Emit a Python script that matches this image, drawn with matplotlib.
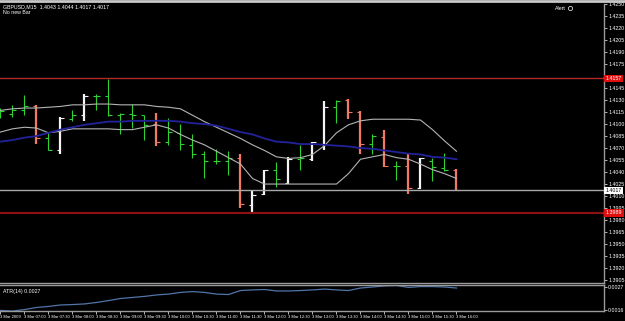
import numpy as np
import matplotlib.pyplot as plt

plt.rcParams['font.family'] = ['Liberation Sans', 'DejaVu Sans']

# GBPUSD M15, 3 Mar 2009, 06:30 .. 16:00
opens = [1.4111, 1.4112, 1.4117, 1.4122, 1.4082, 1.4068, 1.4106, 1.4111, 1.4135, 1.4135,
         1.4111, 1.4112, 1.4111, 1.4100, 1.4078, 1.4089, 1.4074, 1.4062, 1.4054, 1.4054,
         1.4058, 1.3999, 1.4012, 1.4042, 1.4026, 1.4056, 1.4056, 1.4075, 1.4121, 1.4130,
         1.4115, 1.4075, 1.4084, 1.4048, 1.4048, 1.4020, 1.4054, 1.4045, 1.4043]
highs = [1.4120, 1.4124, 1.4136, 1.4124, 1.4089, 1.4109, 1.4117, 1.4138, 1.4137, 1.4156,
         1.4114, 1.4125, 1.4111, 1.4114, 1.4108, 1.4100, 1.4087, 1.4066, 1.4069, 1.4066,
         1.4063, 1.4017, 1.4043, 1.4053, 1.4059, 1.4074, 1.4078, 1.4129, 1.4130, 1.4131,
         1.4116, 1.4087, 1.4093, 1.4054, 1.4062, 1.4058, 1.4058, 1.4064, 1.4044]
lows = [1.4108, 1.4109, 1.4111, 1.4075, 1.4067, 1.4063, 1.4104, 1.4104, 1.4117, 1.4110,
        1.4087, 1.4095, 1.4080, 1.4073, 1.4074, 1.4068, 1.4058, 1.4033, 1.4050, 1.4036,
        1.3995, 1.3990, 1.4011, 1.4021, 1.4025, 1.4043, 1.4054, 1.4067, 1.4101, 1.4106,
        1.4062, 1.4062, 1.4046, 1.4030, 1.4012, 1.4019, 1.4029, 1.4041, 1.4017]
closes = [1.4116, 1.4117, 1.4122, 1.4082, 1.4068, 1.4108, 1.4111, 1.4135, 1.4135, 1.4111,
          1.4112, 1.4111, 1.4099, 1.4078, 1.4090, 1.4075, 1.4062, 1.4054, 1.4054, 1.4058,
          1.4000, 1.4011, 1.4042, 1.4031, 1.4056, 1.4057, 1.4077, 1.4121, 1.4129, 1.4115,
          1.4075, 1.4085, 1.4048, 1.4048, 1.4020, 1.4057, 1.4046, 1.4043, 1.4017]
# indicator signal: +1 strong up bar, -1 strong down bar, 0 normal
signal = [0, 0, 0, -1, 0, 1, 0, 1, 0, 0,
          0, 0, 0, -1, 0, 0, 0, 0, 0, 0,
          -1, 1, 1, 0, 1, 0, 1, 1, 0, -1,
          -1, 0, -1, 0, -1, 1, 0, 0, -1]

ma_blue = [1.4078, 1.4080, 1.4083, 1.4085, 1.4089, 1.4093, 1.4096, 1.4099, 1.4101, 1.4103,
           1.4103, 1.4104, 1.4104, 1.4104, 1.4104, 1.4103, 1.4101, 1.4100, 1.4098, 1.4094,
           1.4090, 1.4087, 1.4082, 1.4078, 1.4077, 1.4075, 1.4075, 1.4074, 1.4073, 1.4072,
           1.4070, 1.4069, 1.4067, 1.4065, 1.4063, 1.4062, 1.4059, 1.4058, 1.4056]
band_up = [1.4117, 1.4119, 1.4120, 1.4120, 1.4121, 1.4122, 1.4124, 1.4124, 1.4125, 1.4125,
           1.4124, 1.4124, 1.4124, 1.4122, 1.4121, 1.4119, 1.4111, 1.4103, 1.4096, 1.4089,
           1.4082, 1.4074, 1.4067, 1.4059, 1.4057, 1.4058, 1.4062, 1.4073, 1.4089, 1.4099,
           1.4104, 1.4106, 1.4106, 1.4106, 1.4106, 1.4105, 1.4093, 1.4079, 1.4066]
band_dn = [1.4090, 1.4094, 1.4096, 1.4095, 1.4089, 1.4091, 1.4094, 1.4094, 1.4094, 1.4094,
           1.4093, 1.4093, 1.4096, 1.4099, 1.4095, 1.4087, 1.4080, 1.4074, 1.4066, 1.4058,
           1.4050, 1.4032, 1.4025, 1.4025, 1.4025, 1.4025, 1.4025, 1.4025, 1.4025, 1.4038,
           1.4056, 1.4059, 1.4062, 1.4058, 1.4056, 1.4050, 1.4043, 1.4038, 1.4032]
atr = [0.00158, 0.00155, 0.00162, 0.00172, 0.00177, 0.00184, 0.00186, 0.00189, 0.00196, 0.00205,
       0.00215, 0.00220, 0.00225, 0.00232, 0.00236, 0.00244, 0.00248, 0.00244, 0.00236, 0.00234,
       0.00253, 0.00256, 0.00258, 0.00251, 0.00251, 0.00253, 0.00256, 0.00260, 0.00256, 0.00253,
       0.00265, 0.00270, 0.00275, 0.00277, 0.00268, 0.00272, 0.00272, 0.00270, 0.00265]

level_hi = 1.4157
level_lo = 1.3989
time_labels = ['3 Mar 2009', '3 Mar 07:00', '3 Mar 07:30', '3 Mar 08:00', '3 Mar 08:30',
               '3 Mar 09:00', '3 Mar 09:30', '3 Mar 10:00', '3 Mar 10:30', '3 Mar 11:00',
               '3 Mar 11:30', '3 Mar 12:00', '3 Mar 12:30', '3 Mar 13:00', '3 Mar 13:30',
               '3 Mar 14:00', '3 Mar 14:30', '3 Mar 15:00', '3 Mar 15:30', '3 Mar 16:00']

W, H = 625, 321
fig = plt.figure(figsize=(W / 100, H / 100), dpi=100, facecolor='black')

def box(top, bottom, right=604):
    return [0, 1 - bottom / H, right / W, (bottom - top) / H]

ax = fig.add_axes(box(4, 283))
ax2 = fig.add_axes(box(285, 311))
grey = '#9a9a9a'
for a in (ax, ax2):
    a.set_facecolor('black')
    a.set_xlim(-0.04, 604 / 12 - 0.04)
    for s in a.spines.values():
        s.set_color(grey)
        s.set_linewidth(1)
    a.spines['left'].set_visible(False)
    a.yaxis.tick_right()
    a.tick_params(axis='y', colors='white', labelsize=3.8, length=2, width=0.5, pad=1)
ax.spines['top'].set_visible(False)

x = np.arange(len(opens))
o = np.array(opens)
c = np.array(closes)
sig = np.array(signal)
colors = np.where(sig > 0, '#f4f4f4', np.where(sig < 0, '#f07a64', '#2ed42e'))
widths = np.where(sig != 0, 1.6, 0.8)

ax.vlines(x, lows, highs, colors=colors, linewidth=widths)
ax.hlines(o, x - 0.33, x, colors=colors, linewidth=0.8)
ax.hlines(c, x, x + 0.33, colors=colors, linewidth=0.8)

ax.plot(x, band_up, color='#b4b4b4', lw=0.8)
ax.plot(x, band_dn, color='#b4b4b4', lw=0.8)
ax.plot(x, ma_blue, color='#22229a', lw=1.3)

ax.axhline(level_hi, color='#b02a2a', lw=1)
ax.axhline(level_lo, color='#8a1212', lw=1.6)
ax.axhline(closes[-1], color='#a8a8a8', lw=1)

step = 0.0015
px = step / 12.15
ax.set_ylim(1.4010 - 88 * px, 1.4010 + 191 * px)
ticks = [t for t in np.arange(1.3905, 1.4251, step) if abs(t - level_hi) > 0.0004]
ax.set_yticks(ticks)
ax.set_yticklabels([f'{t:.4f}' for t in ticks])
ax.set_xticks([])

yt = ax.get_yaxis_transform()
for lvl in (level_hi, level_lo):
    ax.text(1.003, lvl, f'{lvl:.4f}', transform=yt, fontsize=3.8, color='white',
            va='center', ha='left', clip_on=False,
            bbox=dict(boxstyle='square,pad=0.25', fc='#e01010', ec='none'))
ax.text(1.003, closes[-1], f'{closes[-1]:.4f}', transform=yt, fontsize=3.8, color='black',
        va='center', ha='left', clip_on=False,
        bbox=dict(boxstyle='square,pad=0.25', fc='white', ec='none'))

# ATR sub window
ax2.plot(x, atr, color='#5075a8', lw=0.9)
apx = 0.0000478
ax2.set_ylim(0.0016 - 1 * apx, 0.0016 + 25 * apx)
ax2.set_yticks([0.0016, 0.0027])
ax2.set_yticklabels(['0.0016', '0.0027'])
ax2.set_xticks(x[::2][:len(time_labels)])
ax2.set_xticklabels(time_labels, ha='left')
ax2.tick_params(axis='x', colors='white', labelsize=3.0, length=2, width=0.5, pad=1)
for lab in ax2.get_xticklabels():
    lab.set_x(lab.get_position()[0])
ax2.text(0.005, 0.86, f'ATR(14) {atr[-1]:.4f}', transform=ax2.transAxes,
         fontsize=3.8, color='white', va='top')

fig.text(3 / W, 1 - 7 / H, 'GBPUSD,M15  %.4f %.4f %.4f %.4f' % (opens[-1], highs[-1], lows[-1], closes[-1]),
         fontsize=3.8, color='white', va='center')
fig.text(3 / W, 1 - 13 / H, 'No new Bar', fontsize=3.8, color='white', va='center')
fig.text(566 / W, 1 - 8 / H, 'Alert', fontsize=3.8, color='white', va='center', ha='right')
fig.lines.append(plt.Line2D([570 / W], [1 - 8 / H], marker='o', ms=3, mfc='none',
                            mec='white', mew=0.5, transform=fig.transFigure))
fig.lines.append(plt.Line2D([0, 1], [1 - 1 / H, 1 - 1 / H], color='#c8c8c8', lw=2,
                            transform=fig.transFigure))

fig.savefig('out.png', dpi=100, facecolor='black')
